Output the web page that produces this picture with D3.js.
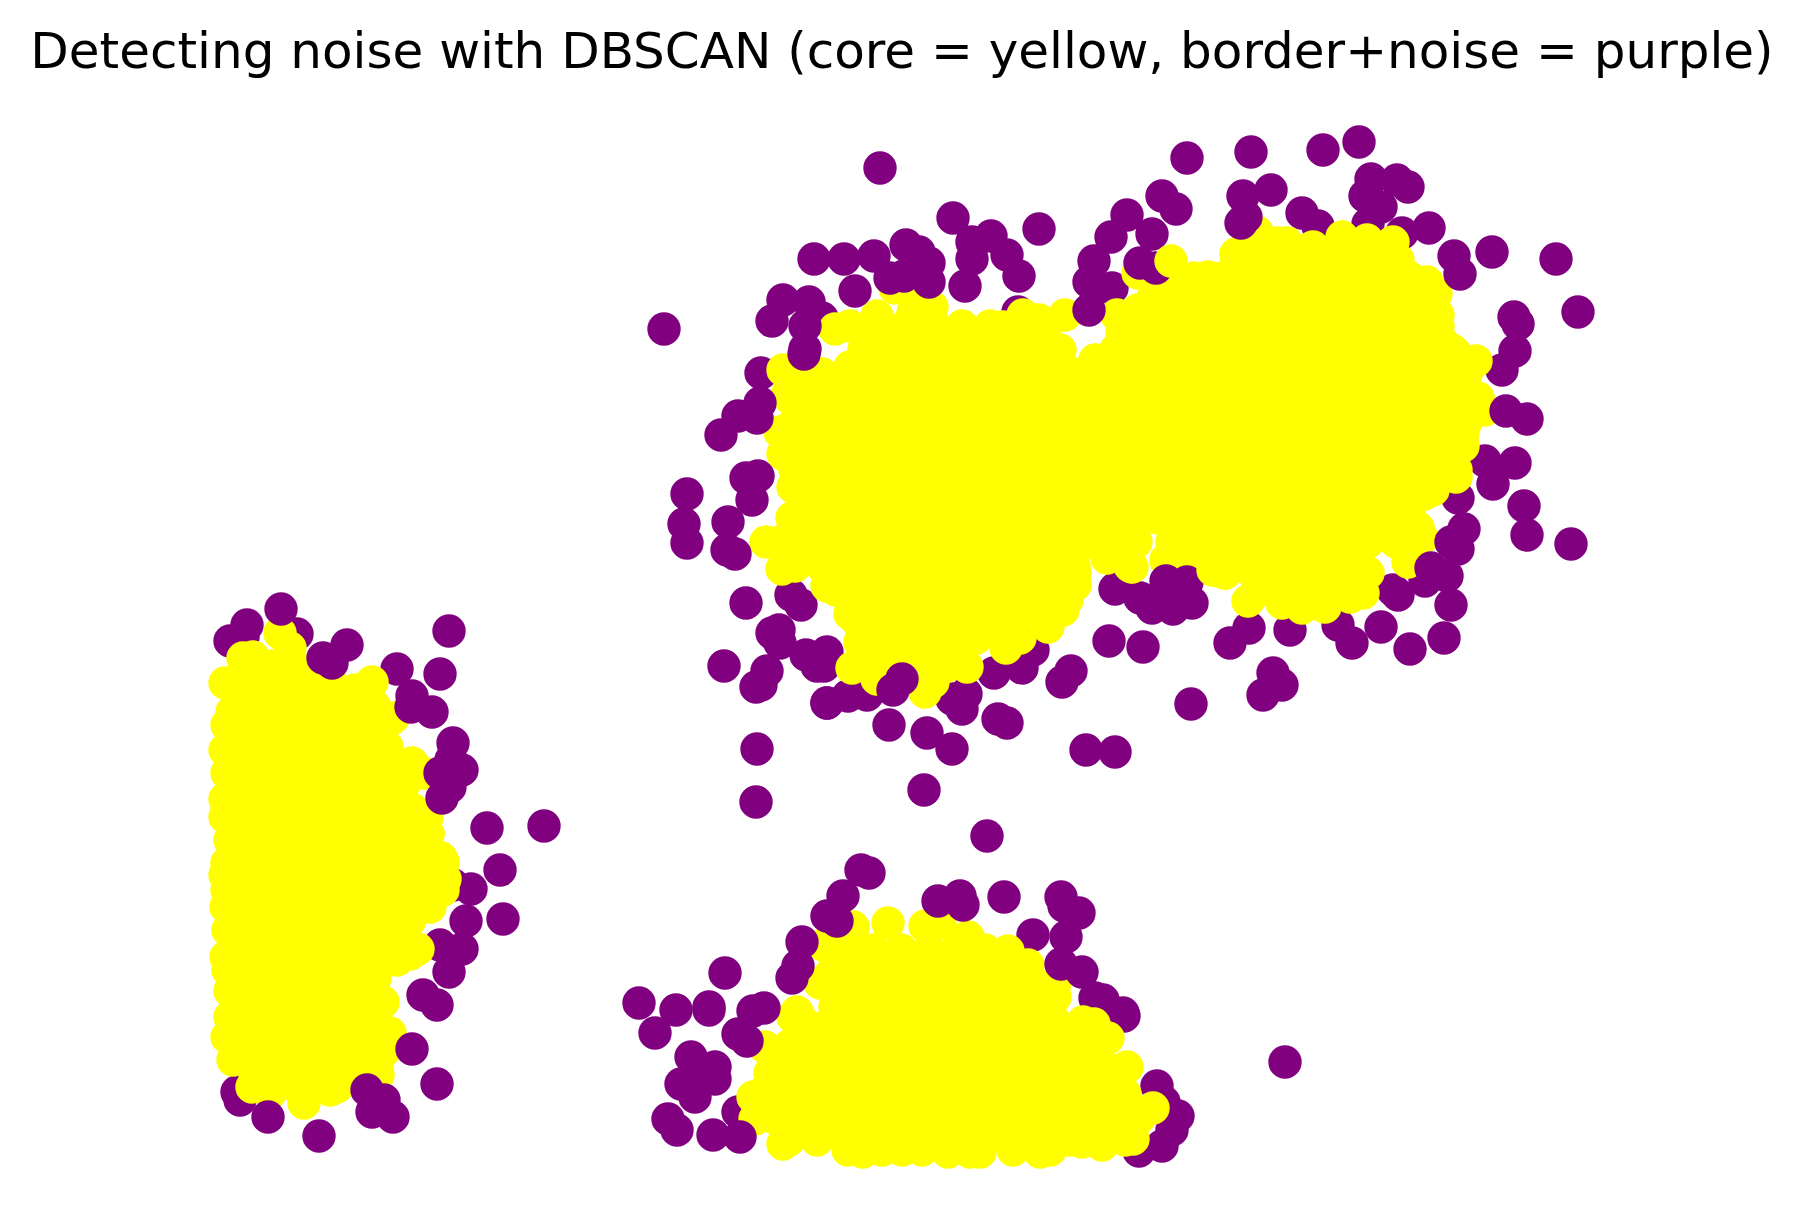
<!DOCTYPE html>
<html lang="en">
<head>
  <meta charset="UTF-8">
  <title>Detecting noise with DBSCAN</title>
  <script src="https://d3js.org/d3.v7.min.js"></script>
</head>
<style>
  html, body { margin: 0; padding: 0; background: #fff; }
  svg { display: block; }
</style>
<body>
<svg></svg>
<script>
  const title = 'Detecting noise with DBSCAN (core = yellow, border+noise = purple)';

  // axes are switched off in the original, so values are read in picture units
  // purple points that sit below the yellow ones
  const noiseBack = [
    [1018,312],[1112,288],[1302,213],[1318,226],[1368,224],[1402,233],[1502,370],[1485,461],[1458,498],
    [822,318],[761,373],[791,595],[801,605],[827,652],[806,655],[817,666],[824,666],[827,703],[848,696],[867,695],
    [966,694],[952,699],[962,709],[994,673],[1022,668],[1033,650],[1115,589],[1140,598],[1249,628],[1290,630],
    [1338,625],[1381,627],[1398,595],[1393,590],[1425,581],[297,634],[230,641],[247,625],[243,637],[397,669],
    [453,885],[471,889],[440,945],[237,1092],[240,1100],[738,1112],[1033,935],[1095,998],[1103,1000],[1123,1013],
    [1124,1016],[1157,1086],[1164,1102],[1178,1116],[1172,1130],[1162,1146],[1139,1151]
  ];

  // purple points drawn after the yellow ones
  const noiseFront = [
    [880,168],[664,329],[953,218],[1039,229],[814,259],[844,259],[874,256],[906,245],[919,252],[929,263],
    [972,242],[991,236],[1007,255],[972,259],[1019,276],[965,286],[855,291],[890,278],[904,276],[929,282],
    [783,300],[809,302],[772,321],[805,326],[805,349],[804,354],[760,403],[738,416],[757,418],[721,435],
    [746,478],[758,476],[687,494],[752,500],[1127,215],[1111,237],[1094,261],[1089,282],[1089,310],
    [1187,158],[1251,152],[1323,150],[1359,142],[1371,179],[1397,180],[1408,187],[1365,196],[1381,207],
    [1162,196],[1176,209],[1271,190],[1243,196],[1241,223],[1246,217],[1429,228],[1454,256],[1460,274],
    [1492,252],[1556,259],[1578,312],[1514,317],[1518,324],[1515,351],[1506,411],[1527,419],[1515,463],
    [1493,484],[1524,506],[1152,234],[1140,263],[1156,268],
    [684,524],[687,543],[728,522],[727,550],[735,554],[746,603],[724,666],[772,633],[779,630],[780,643],
    [767,671],[761,685],[756,687],[827,703],[893,690],[902,679],[889,725],[927,733],[952,749],[998,719],[1007,723],
    [1071,671],[1062,682],[1109,641],[1086,750],[1115,752],[757,749],[756,802],[924,790],[987,836],
    [1152,608],[1166,581],[1187,582],[1173,609],[1192,603],[1180,593],[1143,647],[1191,704],[1230,643],
    [1273,673],[1282,685],[1263,695],[1352,643],[1410,649],[1444,638],[1431,568],[1447,576],[1451,605],
    [1464,529],[1451,542],[1458,549],[1527,535],[1571,544],
    [281,609],[449,631],[347,645],[323,658],[332,663],[440,674],[412,696],[432,712],[411,707],
    [453,743],[451,760],[462,770],[440,773],[450,787],[442,798],[487,828],[544,826],[500,870],
    [466,921],[503,919],[462,949],[449,972],[423,995],[437,1005],[412,1049],[437,1084],[367,1090],[384,1100],
    [372,1112],[393,1117],[268,1117],[319,1136],
    [861,870],[869,873],[843,896],[827,916],[837,921],[802,942],[798,966],[792,978],[938,901],[960,896],[963,905],
    [1004,897],[725,973],[639,1003],[676,1010],[709,1007],[709,1010],[655,1033],[753,1011],[764,1008],[738,1034],
    [747,1041],[691,1057],[715,1067],[715,1079],[681,1084],[695,1097],[697,1077],[668,1119],[677,1130],[713,1135],
    [740,1137],[1061,897],[1064,906],[1079,913],[1066,937],[1061,964],[1082,972],[1285,1062]
  ];

  // yellow points along the edge of the three blobs
  const coreEdgeTop = [
    [835,329],[877,316],[913,313],[932,307],[964,330],[988,332],[1003,327],[1023,315],[1039,320],[1065,315],
    [783,370],[802,368],[895,288],[850,367],[842,377],[820,393],[788,393],[780,432],[783,454],[793,487],
    [1117,315],[1122,333],[1095,360],[1138,310],[1138,273],[1208,277],[1190,285],[1152,300],[1237,260],[1252,247],
    [1257,232],[1278,243],[1287,243],[1342,237],[1393,242],[1398,260],[1427,282],[1436,294],[1438,315],[1443,343],
    [1455,353],[1476,361],[1457,393],[1485,410],[1463,433],[1463,446],[1456,477],[1433,490],[1367,240],[1313,247],
    [1422,538],[1418,528],[1408,562],[1368,573],[1363,593],[1325,607],[1302,608],[1282,603],[1248,601],[1257,580],
    [1225,573],[1213,570],[1166,560],[1132,567],[1107,558],[1075,573],[1068,593],[1350,597],
    [792,518],[766,542],[782,569],[827,586],[850,592],[858,622],[860,642],[852,668],[877,679],[913,655],[933,682],
    [925,692],[945,667],[967,667],[1006,648],[1048,627],[1063,610],[1067,600],[1075,585]
  ];
  const coreEdgeLeft = [
    [280,633],[290,648],[243,658],[253,657],[225,683],[300,673],[372,682],[330,680],[232,712],[227,725],[225,750],
    [227,773],[225,799],[225,817],[230,840],[227,863],[225,875],[375,707],[393,718],[387,747],[412,763],[423,773],
    [427,817],[428,834],[443,862],[445,879],[350,712],[327,703],[227,890],[226,907],[228,930],[226,957],[228,970],
    [230,991],[230,1017],[227,1037],[233,1060],[252,1087],[270,1093],[304,1103],[337,1087],[378,1075],[377,1065],
    [390,1033],[383,1002],[373,983],[418,949],[397,960],[410,920],[430,907],[443,890]
  ];
  const coreEdgeBottom = [
    [783,1144],[753,1097],[755,1119],[770,1073],[765,1047],[793,1017],[797,1012],[835,1007],[823,945],[853,927],
    [888,923],[925,926],[940,923],[968,937],[987,965],[1008,951],[820,983],[848,1150],[863,1152],[882,1150],
    [902,1150],[922,1150],[948,1152],[970,1152],[980,1152],[1013,1150],[1028,965],[1055,997],[1055,983],[1094,1024],
    [1108,1038],[1127,1067],[1153,1108],[1133,1139],[1102,1145],[1082,1142],[1050,1150],[1040,1152],[1117,1093]
  ];

  // yellow points inside the blobs, one row per y
  const coreRows = [
    [254,[1236,1264,1292,1320,1348,1376]],
    [278,[905,1166,1194,1222,1250,1278,1306,1334,1362,1390,1410]],
    [302,[925,1152,1180,1208,1236,1264,1292,1320,1348,1376,1404,1432]],
    [326,[850,878,906,934,962,990,1018,1046,1130,1158,1186,1214,1242,1270,1298,1326,1354,1382,1410,1438]],
    [350,[864,892,920,948,976,1004,1032,1060,1116,1144,1172,1200,1228,1256,1284,1312,1340,1368,1396,1424,1452]],
    [374,[795,822,850,878,906,934,962,990,1018,1046,1074,1102,1130,1158,1186,1214,1242,1270,1298,1326,1354,1382,1410,1438,1466]],
    [398,[790,808,836,864,892,920,948,976,1004,1032,1060,1088,1116,1144,1172,1200,1228,1256,1284,1312,1340,1368,1396,1424,1452,1478]],
    [422,[795,822,850,878,906,934,962,990,1018,1046,1074,1102,1130,1158,1186,1214,1242,1270,1298,1326,1354,1382,1410,1438,1466]],
    [446,[792,808,836,864,892,920,948,976,1004,1032,1060,1088,1116,1144,1172,1200,1228,1256,1284,1312,1340,1368,1396,1424,1452,1460]],
    [470,[795,822,850,878,906,934,962,990,1018,1046,1074,1102,1130,1158,1186,1214,1242,1270,1298,1326,1354,1382,1410,1438,1456]],
    [494,[808,836,864,892,920,948,976,1004,1032,1060,1088,1116,1144,1172,1200,1228,1256,1284,1312,1340,1368,1396,1424]],
    [518,[795,822,850,878,906,934,962,990,1018,1046,1074,1102,1130,1158,1186,1214,1242,1270,1298,1326,1354,1382,1410]],
    [542,[780,808,836,864,892,920,948,976,1004,1032,1060,1088,1116,1136,1172,1200,1228,1256,1284,1312,1340,1368,1396]],
    [566,[795,822,850,878,906,934,962,990,1018,1046,1074,1130,1186,1214,1242,1270,1298,1326,1354]],
    [590,[836,864,892,920,948,976,1004,1032,1060,1260,1288,1316,1344]],
    [614,[850,878,906,934,962,990,1018,1046]],
    [638,[864,892,920,948,976,1004,1020]],
    [662,[878,906,934,962]],

    [666,[245,273,295]],
    [690,[235,263,291,319,355]],
    [714,[245,273,301,329,357]],
    [738,[235,263,291,319,347,375]],
    [762,[245,273,301,329,357,385]],
    [786,[235,263,291,319,347,375,403]],
    [810,[245,273,301,329,357,385,413]],
    [834,[235,263,291,319,347,375,403,428]],
    [858,[245,273,301,329,357,385,413,441]],
    [882,[235,263,291,319,347,375,403,431]],
    [906,[245,273,301,329,357,385,413]],
    [930,[235,263,291,319,347,375,403]],
    [954,[245,273,301,329,357,385,410]],
    [978,[235,263,291,319,347,375]],
    [1002,[245,273,301,329,357,380]],
    [1026,[240,263,291,319,347,375]],
    [1050,[245,273,301,329,357,385]],
    [1074,[255,283,311,339,367]],
    [1090,[270,300,330]],

    [950,[845,873,901,929,957,985]],
    [974,[831,859,887,915,943,971,999,1027]],
    [998,[845,873,901,929,957,985,1013,1041]],
    [1022,[803,831,859,887,915,943,971,999,1027,1055,1083]],
    [1046,[789,817,845,873,901,929,957,985,1013,1041,1069,1097]],
    [1070,[775,803,831,859,887,915,943,971,999,1027,1055,1083,1111]],
    [1094,[761,789,817,845,873,901,929,957,985,1013,1041,1069,1097,1125]],
    [1118,[775,803,831,859,887,915,943,971,999,1027,1055,1083,1111,1139]],
    [1140,[789,817,845,873,901,929,957,985,1013,1041,1069,1097,1125]]
  ];

  // a few yellow points that land on top of the purple ones
  const coreTop = [[1171,261],[1095,362],[1213,570],[1225,573]];

  const width = 1803;
  const height = 1231;
  const radius = 16.7;

  const x = d3.scaleLinear().domain([0, 1803]).range([0, width]);
  const y = d3.scaleLinear().domain([0, 1231]).range([0, height]);

  const svg = d3.select('svg')
    .attr('width', width)
    .attr('height', height)
    .attr('viewBox', `0 0 ${width} ${height}`);

  svg.append('rect').attr('width', width).attr('height', height).style('fill', '#fff');

  function drawPoints(className, data, color) {
    svg.append('g').attr('class', className)
      .selectAll('circle').data(data)
      .enter().append('circle')
      .attr('r', radius)
      .attr('cx', d => x(d[0]))
      .attr('cy', d => y(d[1]))
      .style('fill', color);
  }

  const coreInner = coreRows.flatMap(([rowY, xs]) => xs.map(v => [v, rowY]));

  drawPoints('noise-back', noiseBack, '#800080');
  drawPoints('core', coreEdgeTop.concat(coreEdgeLeft, coreEdgeBottom, coreInner), '#ffff00');
  drawPoints('noise-front', noiseFront, '#800080');
  drawPoints('core-top', coreTop, '#ffff00');

  svg.append('text')
    .attr('x', 902)
    .attr('y', 68)
    .attr('text-anchor', 'middle')
    .style('font-family', '"DejaVu Sans"')
    .style('font-size', '50px')
    .style('fill', '#000')
    .text(title);
</script>
</body>
</html>
